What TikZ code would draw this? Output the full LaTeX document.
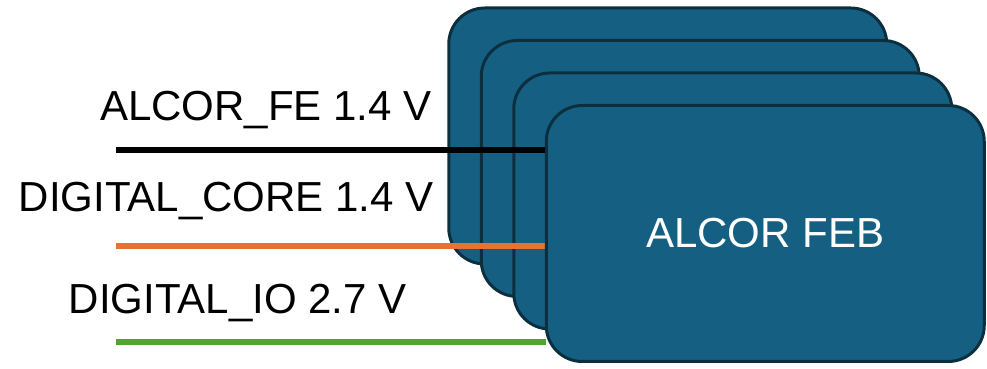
\documentclass[tikz,border=0pt]{standalone}
\usepackage{fontspec}
\setmainfont{Liberation Sans}
\usetikzlibrary{positioning}
\definecolor{febblue}{HTML}{156082}
\definecolor{febedge}{HTML}{0C2F40}
\definecolor{railorange}{HTML}{E97132}
\definecolor{railgreen}{HTML}{4EA72E}
\pgfdeclarelayer{front}
\pgfsetlayers{main,front}

\begin{document}
\begin{tikzpicture}[x=0.5pt,y=-0.5pt,
  card/.style = {shape=rectangle, rounded corners=18pt,
    draw=febedge, line width=1.5pt, fill=febblue,
    minimum width=219pt, minimum height=128pt,
    inner sep=0pt, outer sep=0pt, text=white,
    font=\fontsize{21}{25}\selectfont},
  rail/.style = {line width=3pt},
  railname/.style = {anchor=base east, inner sep=0pt,
    font=\fontsize{21}{25}\selectfont}
  ]
  \useasboundingbox (0,0) rectangle (987,369);

  % stack of boards, back to front
  \node[card] (card1) at (667.75,136) {};
  \node[card] (card2) at ([shift={(32.5,32.5)}]card1.center) {};
  \node[card] (card3) at ([shift={(32.5,32.5)}]card2.center) {};
  \begin{pgfonlayer}{front}
    \node[card] (card4) at ([shift={(32.5,32.5)}]card3.center) {ALCOR FEB};
  \end{pgfonlayer}

  % supply rails
  \coordinate (fe) at (116,150.5);
  \coordinate (core) at (116,246.5);
  \coordinate (io) at (116,342.5);
  \draw[rail,black] (fe) -- (fe -| card4.west);
  \draw[rail,railorange] (core) -- (core -| card4.west);
  \draw[rail,railgreen] (io) -- (io -| card4.west);

  \node[railname] (fename) at (432,121) {ALCOR\_FE 1.4 V};
  \node[railname] (corename) at (434,212) {DIGITAL\_CORE 1.4 V};
  \node[railname] (ioname) at (407,314) {DIGITAL\_IO 2.7 V};
\end{tikzpicture}
\end{document}
